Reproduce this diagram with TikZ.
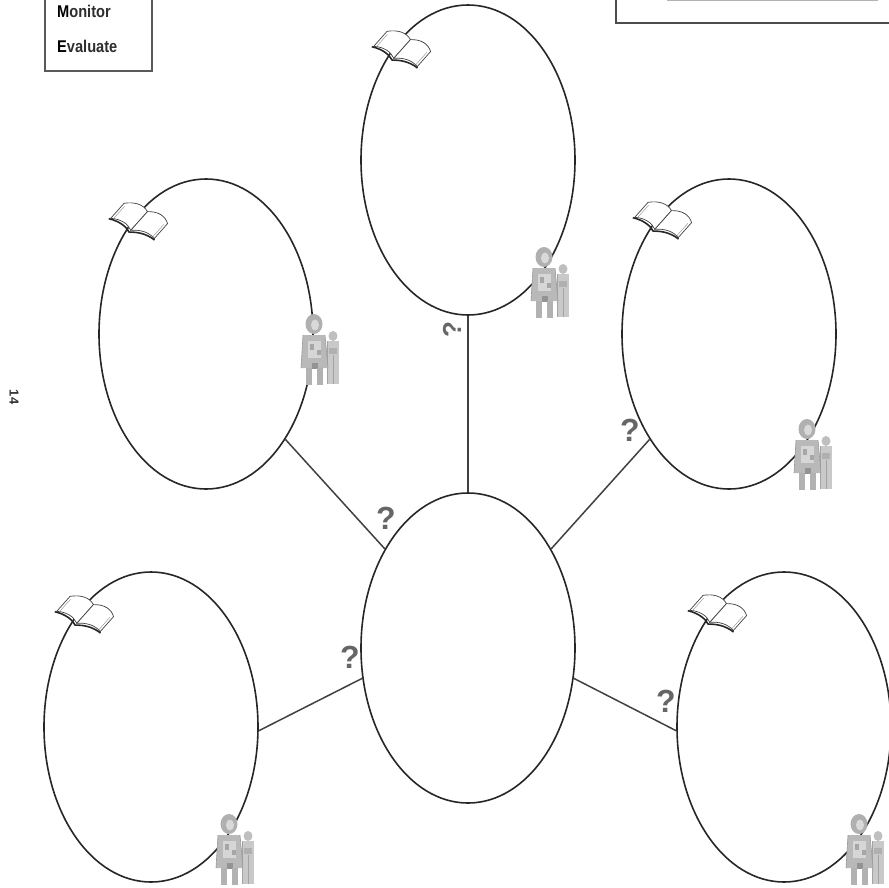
\documentclass[tikz,border=0pt]{standalone}
\usepackage{fontspec}
\setmainfont{Liberation Sans}
\newfontfamily\boxfont[FakeStretch=0.86]{Liberation Sans Bold}
\usetikzlibrary{shapes.geometric}
\begin{document}
\begin{tikzpicture}[x=1pt,y=-1pt,
  bubble/.style={draw=black!85, line width=1.6pt, ellipse, minimum width=214pt,
    minimum height=310pt, inner sep=0pt},
  link/.style={draw=black!75, line width=1.5pt},
  qmark/.style={text=black!60, font=\fontsize{32}{32}\selectfont\bfseries, inner sep=0pt},
  framebox/.style={draw=black!65, line width=1.6pt},
  boxtext/.style={anchor=base west, inner sep=0pt, font=\boxfont\fontsize{17}{17}\selectfont},
  book/.pic={
    \begin{scope}[scale=1.2, rotate=-25, xslant=0.3, line width=0.7pt, draw=black!75]
      % two open pages
      \filldraw[fill=white] (0,-9) .. controls (-7,-13) and (-14,-12) .. (-20,-7)
        -- (-20,9) .. controls (-13,6) and (-6,7) .. (0,11) -- cycle;
      \filldraw[fill=white] (0,-9) .. controls (7,-13) and (14,-12) .. (20,-7)
        -- (20,9) .. controls (13,6) and (6,7) .. (0,11) -- cycle;
      % page edges
      \draw[black!45, line width=0.4pt] (-18,-5) -- (-18,9.5) (18,-5) -- (18,9.5);
      % cover
      \draw[line width=1.6pt, black!85] (-21,10) .. controls (-12,8) and (-5,10) .. (0,13)
        .. controls (5,10) and (12,8) .. (21,10);
    \end{scope}
  },
  reader/.pic={
    % second, smaller figure at the side
    \fill[gray!50] (12,-14) ellipse (4.5 and 5);
    \fill[gray!42] (6,-9) rectangle (18,34);
    \fill[gray!62] (8,-2) rectangle (16,4);
    \draw[gray!72, line width=0.6pt] (12,5) -- (12,34) (6,-9) -- (6,34);
    % main figure: hair, face, body, legs
    \fill[gray!62] (-7,-26) ellipse (8.5 and 10);
    \fill[gray!30] (-6,-25) ellipse (4 and 5.5);
    \fill[gray!55] (-18,-15) -- (4,-15) -- (7,18) -- (-20,18) -- cycle;
    \fill[gray!32] (-13,-9) rectangle (0,8);
    \fill[gray!70] (-11,-6) rectangle (-7,0);
    \fill[gray!70] (-4,0) rectangle (0,5);
    \fill[gray!85] (-9,13) rectangle (-3,19);
    \fill[gray!60] (-15,18) rectangle (-9,35);
    \fill[gray!60] (-4,18) rectangle (2,35);
    \draw[gray!80, line width=0.6pt] (-18,-15) -- (-20,18) (4,-15) -- (7,18);
  }
]
\useasboundingbox (0,0) rectangle (888,888);

% corner boxes
\draw[framebox] (45,-5) -- (45,71) -- (152,71) -- (152,-5);
\node[boxtext] (mon) at (57,18) {\textcolor{black}{M}\textcolor{black!82}{onitor}};
\node[boxtext] (eva) at (57,53) {\textcolor{black}{E}\textcolor{black!82}{valuate}};
\draw[framebox, line width=1.8pt, draw=black!70] (616,-5) -- (616,23) -- (892,23);
\draw[gray!60, line width=1pt] (667,1) -- (878,1);

% page number
\node[rotate=-90, font=\fontsize{13}{13}\selectfont\bfseries, text=black!80, inner sep=0pt]
  (page) at (14,397) {14};

% bubbles
\node[bubble] (C)  at (468,648) {};
\node[bubble] (T)  at (468,160) {};
\node[bubble] (UL) at (206,334) {};
\node[bubble] (UR) at (729,334) {};
\node[bubble] (LL) at (151,727) {};
\node[bubble] (LR) at (784,727) {};

% connectors
\draw[link] (C.90)  -- (T.270);
\draw[link] (C.130) -- (UL.-53);
\draw[link] (C.50)  -- (UR.233);
\draw[link] (C.196) -- (LL.-2);
\draw[link] (C.344) -- (LR.182);

% question marks
\node[qmark, rotate=90, font=\fontsize{26}{26}\selectfont\bfseries] (q1) at (452,330) {?};
\node[qmark] (q2) at (386,518) {?};
\node[qmark] (q3) at (350,657) {?};
\node[qmark] (q4) at (630,430) {?};
\node[qmark] (q5) at (666,701) {?};

% book icons
\pic at (403,48)  {book};
\pic at (140,220) {book};
\pic at (664,219) {book};
\pic at (86,613)  {book};
\pic at (719,612) {book};

% reader icons
\pic at (551,283) {reader};
\pic at (321,350) {reader};
\pic at (814,455) {reader};
\pic at (236,850) {reader};
\pic at (866,850) {reader};
\end{tikzpicture}
\end{document}
